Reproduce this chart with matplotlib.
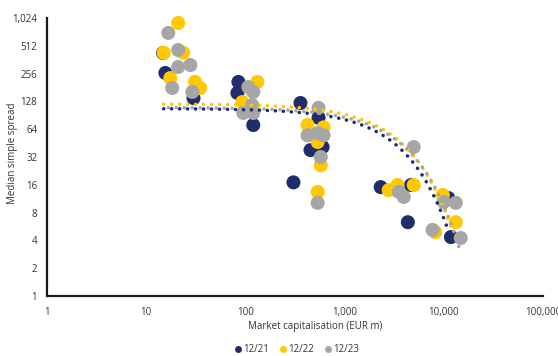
import numpy as np
import matplotlib
matplotlib.use("Agg")
import matplotlib.pyplot as plt
from matplotlib.ticker import FixedLocator, FixedFormatter, NullLocator

plt.rcParams['font.family'] = ['Open Sans', 'DejaVu Sans']

# ---- data ----
series_labels = ["12/21", "12/22", "12/23"]
colors = ["#1F2D6B", "#FFC800", "#A6A6A6"]

cap_2021 = [15.6, 14.8, 30, 85, 83, 120, 359, 546, 453, 600, 305, 2311, 4660, 11120, 4340, 11800]
spr_2021 = [260, 428, 139, 208, 158, 71, 123, 85, 38, 41, 17, 15.1, 15.9, 11.5, 6.3, 4.35]

cap_2022 = [21, 15, 23.6, 17.5, 31.1, 35, 132, 93, 423, 614, 535, 575, 535, 2780, 3420, 4975, 9770, 13200, 8200]
spr_2022 = [904, 430, 430, 229, 208, 179, 208, 126, 71, 67, 46.5, 26, 13.4, 14, 15.9, 15.9, 12.4, 6.3, 4.9]

cap_2023 = [16.7, 21, 27.9, 21, 18.3, 29.2, 107, 120, 117, 95, 120, 546, 423, 535, 614, 575, 535,
            4975, 3520, 3950, 10000, 13200, 7700, 14800]
spr_2023 = [705, 461, 317, 302, 179, 162, 183, 162, 117, 96, 96, 109, 55, 58, 55, 32, 10.2,
            41, 13.4, 11.8, 10.4, 10.2, 5.2, 4.25]

# exponential trend lines y = a * exp(-b x)
trend_a = [107, 120, 110]
trend_b = [0.000274, 0.00026, 0.000245]
trend_x0 = [15, 15, 16.7]
trend_x1 = [12600, 12400, 14600]

x_ticks = [1, 10, 100, 1000, 10000, 100000]
x_tick_labels = ["1", "10", "100", "1,000", "10,000", "100,000"]
y_ticks = [1, 2, 4, 8, 16, 32, 64, 128, 256, 512, 1024]
y_tick_labels = ["1", "2", "4", "8", "16", "32", "64", "128", "256", "512", "1,024"]

# ---- figure ----
W, H = 558, 356
fig = plt.figure(figsize=(W / 100, H / 100), dpi=100)
ax = fig.add_axes([47 / W, 1 - 296 / H, (543 - 47) / W, (296 - 18) / H])

caps = [cap_2021, cap_2022, cap_2023]
sprs = [spr_2021, spr_2022, spr_2023]
for i in range(3):
    ax.scatter(caps[i], sprs[i], s=102, color=colors[i], edgecolors='none',
               zorder=2 + i, clip_on=False, label=series_labels[i])

for i in [2, 0, 1]:
    xs = np.logspace(np.log10(trend_x0[i]), np.log10(trend_x1[i]), 400)
    ys = trend_a[i] * np.exp(-trend_b[i] * xs)
    ax.plot(xs, ys, color=colors[i], lw=2.6, linestyle=(0, (0.01, 2.2)),
            dash_capstyle='round', zorder=6 + i)

ax.set_xscale('log')
ax.set_yscale('log', base=2)
ax.set_xlim(1, 100000)
ax.set_ylim(1, 1024)

ax.xaxis.set_major_locator(FixedLocator(x_ticks))
ax.xaxis.set_major_formatter(FixedFormatter(x_tick_labels))
ax.xaxis.set_minor_locator(NullLocator())
ax.yaxis.set_major_locator(FixedLocator(y_ticks))
ax.yaxis.set_major_formatter(FixedFormatter(y_tick_labels))
ax.yaxis.set_minor_locator(NullLocator())

ax.tick_params(axis='both', length=0, labelsize=7, colors='#333333')
ax.tick_params(axis='x', pad=8)
ax.tick_params(axis='y', pad=7)

for s in ['top', 'right']:
    ax.spines[s].set_visible(False)
for s in ['left', 'bottom']:
    ax.spines[s].set_linewidth(1.6)
    ax.spines[s].set_color('#1a1a1a')

fig.text(315 / W, 1 - 327 / H, "Market capitalisation (EUR m)", ha='center', va='center',
         fontsize=7, color='#333333')
fig.text(13 / W, 1 - 153 / H, "Median simple spread", ha='center', va='center',
         rotation=90, fontsize=7, color='#333333')

handles = [plt.Line2D([], [], marker='o', linestyle='none', markersize=5,
                      markerfacecolor=c, markeredgecolor='none') for c in colors]
fig.legend(handles, series_labels, loc='center', bbox_to_anchor=(296 / W, 1 - 350 / H),
           ncol=3, frameon=False, fontsize=7, handletextpad=0.05, columnspacing=0.9,
           handlelength=1.0, labelcolor='#333333')

fig.savefig("out.png", dpi=100)
